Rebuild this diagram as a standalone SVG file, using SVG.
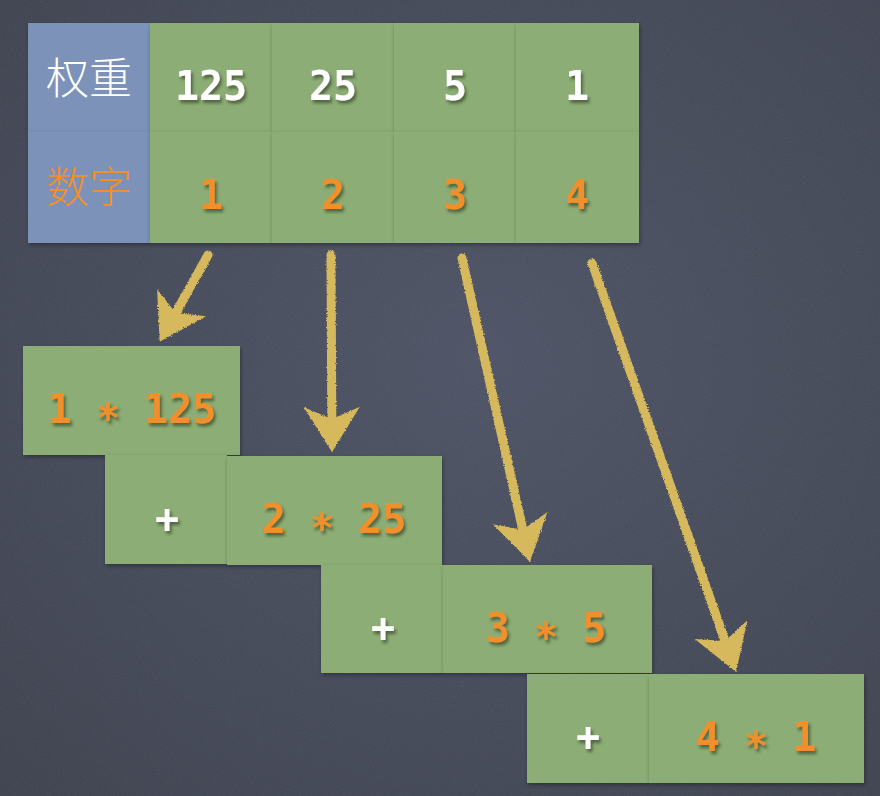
<svg xmlns="http://www.w3.org/2000/svg" width="880" height="796" viewBox="0 0 880 796">
<defs>
<radialGradient id="bg" cx="0.55" cy="0.45" r="0.8">
<stop offset="0" stop-color="#4b5163"/>
<stop offset="1" stop-color="#3b3f4c"/>
</radialGradient>
<filter id="noise" x="0" y="0" width="100%" height="100%">
<feTurbulence type="fractalNoise" baseFrequency="0.9" numOctaves="2" seed="3" result="n"/>
<feColorMatrix in="n" type="matrix" values="0 0 0 0 1  0 0 0 0 1  0 0 0 0 1  0 0 0 0.07 0"/>
</filter>
<filter id="cellShadow" x="-10%" y="-10%" width="125%" height="125%">
<feDropShadow dx="1" dy="2" stdDeviation="2" flood-color="#000" flood-opacity="0.35"/>
</filter>
<filter id="txtShadow" x="-20%" y="-20%" width="150%" height="160%">
<feDropShadow dx="2" dy="3" stdDeviation="1.8" flood-color="#1e2a14" flood-opacity="0.55"/>
</filter>
<filter id="chalk" x="-10%" y="-10%" width="120%" height="120%">
<feTurbulence type="fractalNoise" baseFrequency="0.7" numOctaves="2" seed="7" result="t"/>
<feDisplacementMap in="SourceGraphic" in2="t" scale="3" xChannelSelector="R" yChannelSelector="G"/>
</filter>
<marker id="head" markerUnits="userSpaceOnUse" viewBox="0 -30 50 60" markerWidth="50" markerHeight="60" refX="12" refY="0" orient="auto">
<path d="M45,0 L0,-28 L12,0 L0,28 Z" fill="#d7b95d"/>
</marker>
<style>
.green{fill:#8cad75;filter:url(#cellShadow)}
.blue{fill:#7c92b8;filter:url(#cellShadow)}
.num{font-family:"DejaVu Sans Mono","Liberation Mono",monospace;font-weight:bold;font-size:40px;text-anchor:middle;filter:url(#txtShadow)}
.w{fill:#ffffff}
.o{fill:#f18f2b}
.cjk{font-family:"Noto Sans CJK SC","Noto Sans",sans-serif;font-size:43px;font-weight:300;text-anchor:middle}
.arrow{fill:none;stroke:#d7b95d;stroke-width:9;stroke-linecap:round;marker-end:url(#head)}
</style>
</defs>
<rect width="880" height="796" fill="url(#bg)"/>
<rect width="880" height="796" filter="url(#noise)"/>

<g id="table">
<g id="label-weight">
<rect class="blue" x="28" y="23" width="122" height="109"/>
<text class="cjk w" x="89" y="94">权重</text>
</g>
<g id="label-digit">
<rect class="blue" x="28" y="132" width="122" height="111"/>
<text class="cjk o" x="89" y="203">数字</text>
</g>
<g id="w125"><rect class="green" x="150" y="23" width="122" height="109"/><text class="num w" x="211" y="100">125</text></g>
<g id="w25"><rect class="green" x="272" y="23" width="122" height="109"/><text class="num w" x="333" y="100">25</text></g>
<g id="w5"><rect class="green" x="394" y="23" width="122" height="109"/><text class="num w" x="455" y="100">5</text></g>
<g id="w1"><rect class="green" x="516" y="23" width="123" height="109"/><text class="num w" x="577" y="100">1</text></g>
<g id="d1"><rect class="green" x="150" y="132" width="122" height="111"/><text class="num o" x="211" y="209">1</text></g>
<g id="d2"><rect class="green" x="272" y="132" width="122" height="111"/><text class="num o" x="333" y="209">2</text></g>
<g id="d3"><rect class="green" x="394" y="132" width="122" height="111"/><text class="num o" x="455" y="209">3</text></g>
<g id="d4"><rect class="green" x="516" y="132" width="123" height="111"/><text class="num o" x="577" y="209">4</text></g>
</g>

<g id="term1"><rect class="green" x="23" y="346" width="217" height="109"/><text class="num o" x="132" y="423">1 <tspan dy="9">*</tspan><tspan dy="-9"> 125</tspan></text></g>
<g id="plus1"><rect class="green" x="105" y="455" width="122" height="109"/><text class="num w" x="167" y="533">+</text></g>
<g id="term2"><rect class="green" x="227" y="456" width="215" height="109"/><text class="num o" x="334" y="533">2 <tspan dy="9">*</tspan><tspan dy="-9"> 25</tspan></text></g>
<g id="plus2"><rect class="green" x="321" y="565" width="122" height="108"/><text class="num w" x="383" y="642">+</text></g>
<g id="term3"><rect class="green" x="443" y="565" width="209" height="108"/><text class="num o" x="546" y="642">3 <tspan dy="9">*</tspan><tspan dy="-9"> 5</tspan></text></g>
<g id="plus3"><rect class="green" x="527" y="674" width="122" height="109"/><text class="num w" x="588" y="751">+</text></g>
<g id="term4"><rect class="green" x="649" y="674" width="215" height="109"/><text class="num o" x="756" y="751">4 <tspan dy="9">*</tspan><tspan dy="-9"> 1</tspan></text></g>

<g id="connectors" filter="url(#chalk)">
<path class="arrow" d="M208,255 L175.7,313"/>
<path class="arrow" d="M331,255 L331.8,419"/>
<path class="arrow" d="M462,258 L522.8,529.8"/>
<path class="arrow" d="M592,263 L725.1,640.9"/>
</g>
</svg>
